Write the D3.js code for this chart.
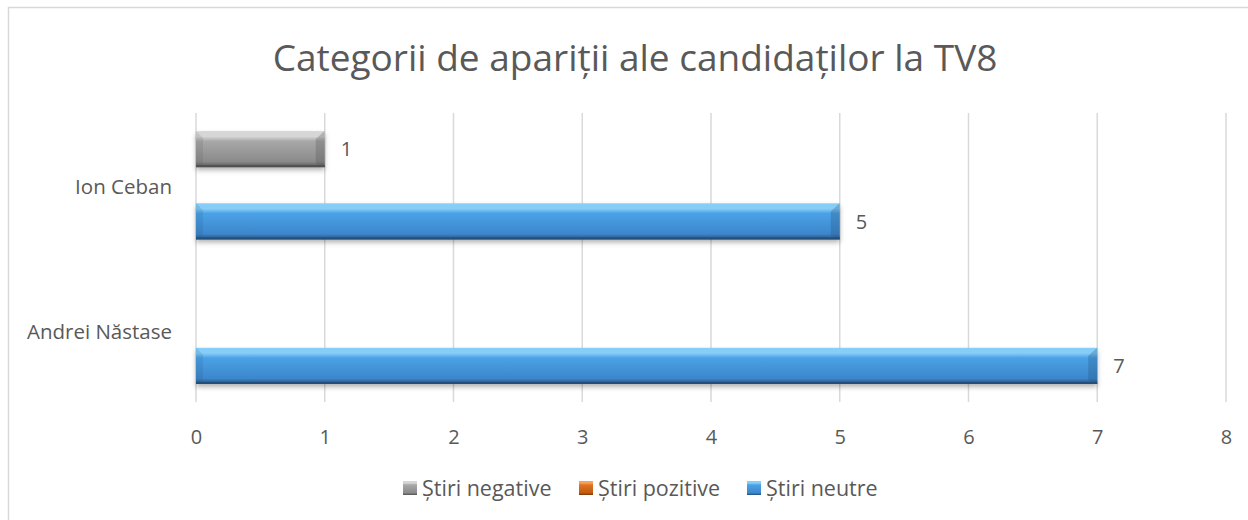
<!DOCTYPE html>
<html><head><meta charset="utf-8">
<script src="https://cdn.jsdelivr.net/npm/d3@7"></script>
<style>body{margin:0;background:#fff}svg{display:block}</style>
</head><body>
<svg id="c" width="1248" height="520"></svg>
<script>
const categories = ["Ion Ceban", "Andrei Năstase"];
const seriesNames = ["Știri negative", "Știri pozitive", "Știri neutre"];
const negative = [1, 0];
const positive = [0, 0];
const neutral = [5, 7];
const xTicks = [0, 1, 2, 3, 4, 5, 6, 7, 8];
const titleText = "Categorii de apariții ale candidaților la TV8";

const seriesValues = [negative, positive, neutral];
const palette = {
  "Știri negative": {top:"#d6d6d6", mid:"#a8a8a8", bot:"#8a8a8a", edge:"#505050"},
  "Știri pozitive": {top:"#f5a35a", mid:"#e0741f", bot:"#c05a12", edge:"#7a3606"},
  "Știri neutre": {top:"#86cdf7", mid:"#4aa2e6", bot:"#3d86cc", edge:"#234f7a"}
};

const svg = d3.select("#c");
const font = "'Open Sans', 'Noto Sans', sans-serif";
const txt = "#595959";

svg.append("rect").attr("x",8.5).attr("y",7.5).attr("width",1260).attr("height",530)
  .attr("fill","#fff").attr("stroke","#d9d9d9").attr("stroke-width",1.5);

const defs = svg.append("defs");
seriesNames.forEach((s,i)=>{
  const p = palette[s];
  const g = defs.append("linearGradient").attr("id","g"+i).attr("x1",0).attr("y1",0).attr("x2",0).attr("y2",1);
  g.append("stop").attr("offset","0").attr("stop-color",p.top);
  g.append("stop").attr("offset","0.15").attr("stop-color",p.top);
  g.append("stop").attr("offset","0.28").attr("stop-color",p.mid);
  g.append("stop").attr("offset","0.85").attr("stop-color",p.bot);
  g.append("stop").attr("offset","1").attr("stop-color",p.edge);
});
const f = defs.append("filter").attr("id","sh").attr("x","-5%").attr("y","-20%").attr("width","110%").attr("height","160%");
f.append("feDropShadow").attr("dx",0).attr("dy",3).attr("stdDeviation",2.5).attr("flood-color","#000").attr("flood-opacity",0.3);

const x = d3.scaleLinear().domain([0,8]).range([196,1226]);
const y0 = d3.scaleBand().domain(categories).range([113,402]);
const y1 = d3.scaleBand().domain(seriesNames).range([0,y0.bandwidth()]).paddingOuter(0.5).paddingInner(0);

// gridlines
svg.append("g").selectAll("line").data(xTicks).join("line")
  .attr("x1",d=>x(d)).attr("x2",d=>x(d)).attr("y1",113).attr("y2",402)
  .attr("stroke","#d9d9d9").attr("stroke-width",1.5);

// x axis labels
const xAxis = d3.axisBottom(x).tickValues(xTicks).tickSize(0).tickPadding(0);
const ax = svg.append("g").attr("transform","translate(0,444)").call(xAxis);
ax.select(".domain").remove();
ax.selectAll("text").attr("font-family",font).attr("font-size",20).attr("fill",txt).attr("dy",0);

// y axis labels
const yAxis = d3.axisLeft(y0).tickSize(0).tickPadding(0);
const ay = svg.append("g").attr("transform","translate(172,0)").call(yAxis);
ay.select(".domain").remove();
ay.selectAll("text").attr("font-family",font).attr("font-size",20.5).attr("fill",txt).attr("dy","0.45em");

// bars
const data = [];
categories.forEach((c,ci)=>seriesNames.forEach((s,si)=>data.push({c,s,si,v:seriesValues[si][ci]})));
const bars = svg.append("g").selectAll("g").data(data.filter(d=>d.v>0)).join("g")
  .attr("transform",d=>`translate(${x(0)},${y0(d.c)+y1(d.s)})`);
const bh = y1.bandwidth();
bars.each(function(d){
  const g = d3.select(this);
  const w = x(d.v)-x(0);
  const p = palette[d.s];
  g.append("rect").attr("width",w).attr("height",bh).attr("fill","url(#g"+d.si+")").attr("filter","url(#sh)");
  g.append("path").attr("d",`M0,0 L7,7 L7,${bh-4} L0,${bh}Z`).attr("fill",p.edge).attr("opacity",0.15);
  g.append("path").attr("d",`M${w},0 L${w-9},8 L${w-9},${bh-4} L${w},${bh}Z`).attr("fill",p.edge).attr("opacity",0.28);
  g.append("rect").attr("y",bh-2).attr("width",w).attr("height",2).attr("fill",p.edge);
});

// data labels
svg.append("g").selectAll("text").data(data.filter(d=>d.v>0)).join("text")
  .attr("x",d=>x(d.v)+16).attr("y",d=>y0(d.c)+y1(d.s)+bh/2).attr("dy","0.36em")
  .attr("font-family",font).attr("font-size",20).attr("fill",txt).text(d=>d.v);

// title
svg.append("text").attr("x",635).attr("y",71).attr("text-anchor","middle")
  .attr("font-family",font).attr("font-size",37).attr("fill",txt).text(titleText);

// legend
const legendX = [403, 579, 747];
const lg = svg.append("g").selectAll("g").data(seriesNames).join("g")
  .attr("transform",(d,i)=>`translate(${legendX[i]},481)`);
lg.append("rect").attr("width",14).attr("height",14).attr("fill",(d,i)=>"url(#g"+i+")");
lg.append("text").attr("x",19).attr("y",7).attr("dy","0.36em")
  .attr("font-family",font).attr("font-size",21.5).attr("fill",txt).text(d=>d);
</script>
</body></html>
